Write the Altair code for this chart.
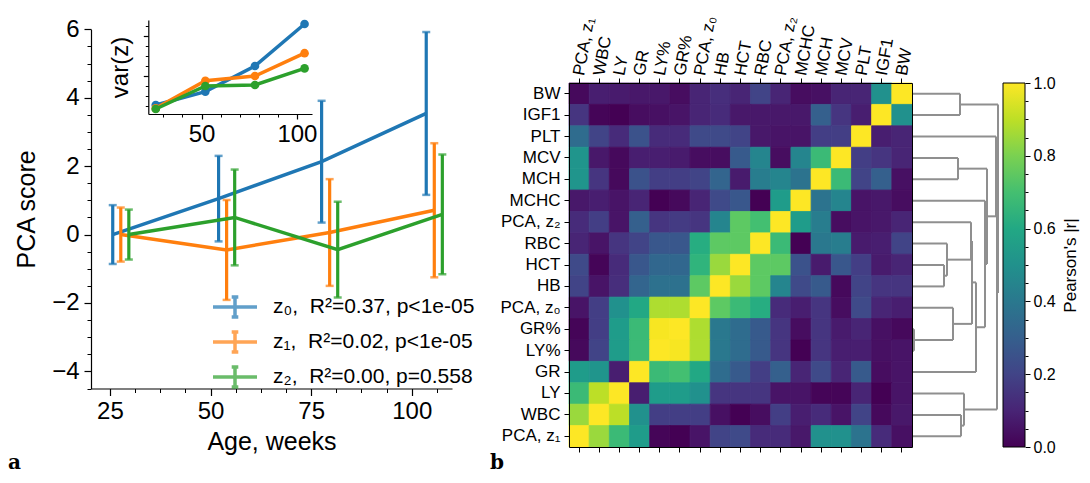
import altair as alt
import pandas as pd

W, H = 1074, 467
FONT = "Liberation Sans"

# ---------------- panel a: PCA scores vs age ----------------
series_labels = ["z\u2080,\u00a0 R\u00b2=0.37, p<1e-05",
                 "z\u2081,\u00a0 R\u00b2=0.02, p<1e-05",
                 "z\u2082,\u00a0 R\u00b2=0.00, p=0.558"]
series_colors = ["#1f77b4", "#ff7f0e", "#2ca02c"]

age_z0 = [25.7, 52.0, 77.6, 103.6]
age_z1 = [27.7, 54.0, 79.6, 105.6]
age_z2 = [29.7, 56.0, 81.6, 107.6]
mean_z0 = [0.0, 1.05, 2.13, 3.54]
mean_z1 = [0.0, -0.45, 0.06, 0.71]
mean_z2 = [0.0, 0.50, -0.44, 0.59]
err_z0 = [0.86, 1.25, 1.78, 2.38]
err_z1 = [0.79, 1.46, 1.56, 1.96]
err_z2 = [0.73, 1.40, 1.40, 1.75]

main_x_ticks = [25, 50, 75, 100]
main_x_minor = [31.25, 37.5, 43.75, 56.25, 62.5, 68.75, 81.25, 87.5, 93.75, 106.25]
main_y_ticks = [-4, -2, 0, 2, 4, 6]
main_y_minor = [-4.5, -3.5, -3, -2.5, -1.5, -1, -0.5, 0.5, 1, 1.5, 2.5, 3, 3.5, 4.5, 5, 5.5]

# inset: variance of z
inset_age = [26, 52, 78, 104]
var_z0 = [0.55, 1.22, 2.50, 4.60]
var_z1 = [0.38, 1.76, 2.00, 3.14]
var_z2 = [0.35, 1.50, 1.55, 2.38]
inset_x_ticks = [50, 100]
inset_x_minor = [30, 40, 60, 70, 80, 90]
inset_y_ticks = [2, 4]
inset_y_minor = [0.5, 1, 1.5, 2.5, 3, 3.5, 4.5]

# ---------------- panel b: correlation heatmap ----------------
heat_cols = ["PCA, z\u2081", "WBC", "LY", "GR", "LY%", "GR%", "PCA, z\u2080", "HB", "HCT",
             "RBC", "PCA, z\u2082", "MCHC", "MCH", "MCV", "PLT", "IGF1", "BW"]
heat_rows = list(reversed(heat_cols))  # top to bottom
heat_r = [
    [0.02, 0.08, 0.07, 0.06, 0.06, 0.03, 0.10, 0.13, 0.10, 0.20, 0.10, 0.03, 0.04, 0.10, 0.10, 0.50, 1.00],  # BW
    [0.15, 0.01, 0.00, 0.03, 0.04, 0.05, 0.10, 0.12, 0.06, 0.06, 0.06, 0.06, 0.30, 0.15, 0.08, 1.00, 0.50],  # IGF1
    [0.35, 0.20, 0.12, 0.25, 0.12, 0.12, 0.22, 0.22, 0.20, 0.06, 0.05, 0.05, 0.18, 0.18, 1.00, 0.08, 0.10],  # PLT
    [0.52, 0.06, 0.02, 0.08, 0.08, 0.07, 0.03, 0.03, 0.28, 0.45, 0.03, 0.45, 0.68, 1.00, 0.18, 0.15, 0.10],  # MCV
    [0.52, 0.15, 0.02, 0.25, 0.18, 0.18, 0.20, 0.32, 0.07, 0.42, 0.45, 0.38, 1.00, 0.68, 0.20, 0.30, 0.04],  # MCH
    [0.06, 0.08, 0.05, 0.10, 0.00, 0.02, 0.10, 0.22, 0.27, 0.00, 0.55, 1.00, 0.38, 0.45, 0.05, 0.06, 0.03],  # MCHC
    [0.12, 0.18, 0.05, 0.30, 0.15, 0.17, 0.15, 0.45, 0.75, 0.70, 1.00, 0.55, 0.42, 0.03, 0.05, 0.06, 0.10],  # z2
    [0.10, 0.05, 0.15, 0.20, 0.27, 0.27, 0.62, 0.75, 0.75, 1.00, 0.68, 0.00, 0.40, 0.42, 0.07, 0.08, 0.20],  # RBC
    [0.22, 0.01, 0.12, 0.27, 0.33, 0.33, 0.65, 0.85, 1.00, 0.75, 0.75, 0.25, 0.07, 0.27, 0.18, 0.07, 0.10],  # HCT
    [0.20, 0.05, 0.13, 0.32, 0.37, 0.37, 0.75, 1.00, 0.85, 0.75, 0.45, 0.22, 0.28, 0.02, 0.20, 0.15, 0.15],  # HB
    [0.05, 0.18, 0.50, 0.60, 0.88, 0.88, 1.00, 0.75, 0.68, 0.62, 0.12, 0.08, 0.15, 0.03, 0.22, 0.10, 0.08],  # z0
    [0.01, 0.18, 0.55, 0.68, 0.99, 1.00, 0.88, 0.40, 0.35, 0.28, 0.15, 0.03, 0.15, 0.07, 0.10, 0.04, 0.02],  # GR%
    [0.02, 0.20, 0.55, 0.68, 1.00, 0.99, 0.88, 0.40, 0.35, 0.28, 0.15, 0.00, 0.15, 0.08, 0.08, 0.04, 0.05],  # LY%
    [0.55, 0.52, 0.08, 1.00, 0.68, 0.70, 0.60, 0.35, 0.28, 0.18, 0.30, 0.10, 0.22, 0.10, 0.28, 0.03, 0.05],  # GR
    [0.68, 0.90, 1.00, 0.08, 0.55, 0.55, 0.50, 0.15, 0.15, 0.15, 0.05, 0.05, 0.01, 0.01, 0.10, 0.00, 0.05],  # LY
    [0.85, 1.00, 0.90, 0.50, 0.18, 0.18, 0.18, 0.04, 0.00, 0.03, 0.18, 0.08, 0.12, 0.05, 0.20, 0.02, 0.06],  # WBC
    [1.00, 0.85, 0.68, 0.55, 0.01, 0.00, 0.05, 0.20, 0.22, 0.12, 0.12, 0.06, 0.50, 0.50, 0.38, 0.12, 0.04],  # z1
]

# dendrogram links: (child a, child b, distance); leaves are row indices 0..16 (top to bottom),
# link k creates node 17 + k
dendro_links = [
    (11, 12, 2), (8, 9, 32), (7, 18, 35), (3, 4, 46), (0, 1, 48), (15, 16, 49),
    (10, 17, 41), (14, 22, 52), (6, 19, 59), (25, 23, 60), (26, 13, 64),
    (5, 27, 73), (20, 28, 75), (2, 29, 84), (30, 24, 85), (21, 31, 86),
]

cbar_ticks = [0.0, 0.2, 0.4, 0.6, 0.8, 1.0]
cbar_minor = [0.05, 0.1, 0.15, 0.25, 0.3, 0.35, 0.45, 0.5, 0.55, 0.65, 0.7, 0.75, 0.85, 0.9, 0.95]
viridis_offsets = [0.0, 0.1, 0.2, 0.3, 0.4, 0.5, 0.6, 0.7, 0.8, 0.9, 1.0]
viridis_colors = ["#440154", "#482475", "#414487", "#355f8d", "#2a788e", "#21918c",
                  "#22a884", "#44bf70", "#7ad151", "#bddf26", "#fde725"]

# ---------------- layout (pixels inside the view) ----------------
A_X = [83, 444]; A_Y = [380.5, 21.3]
IN_X = [140.3, 304]; IN_Y = [106, 12]
HM_X = [561, 904]; HM_Y = [75, 439]
DG_X = [904, 992]
CB_X = [995, 1017]

# ---------------- build tables ----------------
rows = []
for lab, ages, means, errs in zip(series_labels, [age_z0, age_z1, age_z2],
                                  [mean_z0, mean_z1, mean_z2], [err_z0, err_z1, err_z2]):
    for a, m, e in zip(ages, means, errs):
        rows.append({"series": lab, "age": a, "mean": m, "lo": m - e, "hi": m + e})
main_df = pd.DataFrame(rows)

irows = []
for lab, vals in zip(series_labels, [var_z0, var_z1, var_z2]):
    for a, v in zip(inset_age, vals):
        irows.append({"series": lab, "age": a, "var": v})
inset_df = pd.DataFrame(irows)

heat_df = pd.DataFrame([{"row": rn, "col": cn, "r": heat_r[i][j]}
                        for i, rn in enumerate(heat_rows) for j, cn in enumerate(heat_cols)])

pos = {i: float(i) for i in range(17)}
hgt = {i: 0.0 for i in range(17)}
segs = []
for k, (a, b, h) in enumerate(dendro_links):
    segs.append({"h1": hgt[a], "h2": h, "p1": pos[a], "p2": pos[a]})
    segs.append({"h1": hgt[b], "h2": h, "p1": pos[b], "p2": pos[b]})
    segs.append({"h1": h, "h2": h, "p1": pos[a], "p2": pos[b]})
    pos[17 + k] = (pos[a] + pos[b]) / 2
    hgt[17 + k] = h
seg_df = pd.DataFrame(segs)

# ---------------- panel a ----------------
x_main = alt.Scale(domain=[20.3, 110.0], range=A_X, nice=False, zero=False)
y_main = alt.Scale(domain=[-4.5, 6.0], range=A_Y, nice=False, zero=False)
c_main = alt.Scale(domain=series_labels, range=series_colors)

ax_main_x = alt.Axis(orient="bottom", offset=A_Y[0] - H, values=main_x_ticks, format="d",
                     tickSize=7, tickWidth=1.2, domainWidth=1.2, labelFontSize=24, labelPadding=4,
                     title="Age, weeks", titleFontSize=25, titlePadding=6)
ax_main_y = alt.Axis(orient="left", offset=-A_X[0], values=main_y_ticks, format="d",
                     tickSize=7, tickWidth=1.2, domainWidth=1.2, labelFontSize=24, labelPadding=5,
                     title="PCA score", titleFontSize=25, titlePadding=12)
legend_main = alt.Legend(orient="none", legendX=214, legendY=286, title=None,
                         symbolType="M-2,0H2M0,-0.9V0.9M-0.3,-0.9H0.3M-0.3,0.9H0.3",
                         symbolSize=484, symbolStrokeWidth=3.5, labelFontSize=21,
                         labelOffset=25, rowPadding=1, padding=0, labelColor="black",
                         labelFont=FONT, labelLimit=0)

main_layers = []
for lab in series_labels:
    base = alt.Chart(main_df).transform_filter(alt.datum.series == lab)
    ex = alt.X("age:Q", scale=x_main, axis=ax_main_x)
    col = alt.Color("series:N", scale=c_main, legend=legend_main)
    main_layers.append(base.mark_line(strokeWidth=3.5).encode(
        x=ex, y=alt.Y("mean:Q", scale=y_main, axis=ax_main_y), color=col))
    main_layers.append(base.mark_rule(strokeWidth=3.2).encode(
        x=ex, y=alt.Y("lo:Q", scale=y_main, axis=ax_main_y), y2="hi:Q", color=col))
    for f in ["hi", "lo"]:
        main_layers.append(base.mark_tick(orient="horizontal", size=8, thickness=2.5).encode(
            x=ex, y=alt.Y(f + ":Q", scale=y_main, axis=ax_main_y), color=col))
main_group = alt.layer(*main_layers)

main_minor_x = alt.Chart(pd.DataFrame({"v": main_x_minor})).mark_point(opacity=0).encode(
    x=alt.X("v:Q", scale=x_main, axis=alt.Axis(orient="bottom", offset=A_Y[0] - H,
            values=main_x_minor, tickSize=4, tickWidth=1, labels=False, domain=False, title=None)))
main_minor_y = alt.Chart(pd.DataFrame({"v": main_y_minor})).mark_point(opacity=0).encode(
    y=alt.Y("v:Q", scale=y_main, axis=alt.Axis(orient="left", offset=-A_X[0],
            values=main_y_minor, tickSize=4, tickWidth=1, labels=False, domain=False, title=None)))

# inset
x_in = alt.Scale(domain=[22.1, 107.9], range=IN_X, nice=False, zero=False)
y_in = alt.Scale(domain=[0.1, 4.8], range=IN_Y, nice=False, zero=False)
ax_in_x = alt.Axis(orient="bottom", offset=IN_Y[0] - H, values=inset_x_ticks, format="d",
                   tickSize=5, tickWidth=1.2, domainWidth=1.2, labelFontSize=24, labelPadding=3,
                   title=None)
ax_in_y = alt.Axis(orient="left", offset=-IN_X[0], values=inset_y_ticks, labels=False,
                   tickSize=5, tickWidth=1.2, domainWidth=1.2, title="var(z)",
                   titleFontSize=24, titlePadding=10)
inset_layers = []
for lab in series_labels:
    base = alt.Chart(inset_df).transform_filter(alt.datum.series == lab)
    enc = dict(x=alt.X("age:Q", scale=x_in, axis=ax_in_x),
               y=alt.Y("var:Q", scale=y_in, axis=ax_in_y),
               color=alt.Color("series:N", scale=c_main, legend=None))
    inset_layers.append(base.mark_line(strokeWidth=3.5).encode(**enc))
    inset_layers.append(base.mark_point(filled=True, size=75, opacity=1).encode(**enc))
inset_group = alt.layer(*inset_layers)

inset_minor_x = alt.Chart(pd.DataFrame({"v": inset_x_minor})).mark_point(opacity=0).encode(
    x=alt.X("v:Q", scale=x_in, axis=alt.Axis(orient="bottom", offset=IN_Y[0] - H,
            values=inset_x_minor, tickSize=3, tickWidth=1, labels=False, domain=False, title=None)))
inset_minor_y = alt.Chart(pd.DataFrame({"v": inset_y_minor})).mark_point(opacity=0).encode(
    y=alt.Y("v:Q", scale=y_in, axis=alt.Axis(orient="left", offset=-IN_X[0],
            values=inset_y_minor, tickSize=3, tickWidth=1, labels=False, domain=False, title=None)))

# ---------------- panel b ----------------
viridis01 = alt.Scale(scheme="viridis", domain=[0, 1])
heat = alt.Chart(heat_df).mark_rect(strokeWidth=0.8).encode(
    x=alt.X("col:N", sort=heat_cols,
            scale=alt.Scale(domain=heat_cols, range=HM_X, paddingInner=0, paddingOuter=0),
            axis=alt.Axis(orient="top", offset=-HM_Y[0], labelAngle=280, labelAlign="left",
                          labelBaseline="middle", labelFontSize=17, labelPadding=3, tickSize=5,
                          labelLimit=0, title=None)),
    y=alt.Y("row:N", sort=heat_rows,
            scale=alt.Scale(domain=heat_rows, range=HM_Y, paddingInner=0, paddingOuter=0),
            axis=alt.Axis(orient="left", offset=-HM_X[0], labelFontSize=17, labelPadding=4,
                          tickSize=5, title=None)),
    color=alt.Color("r:Q", scale=viridis01, legend=None),
    stroke=alt.Stroke("r:Q", scale=viridis01, legend=None),
)
heat_frame = alt.Chart(heat_df).mark_rect(opacity=0).encode(
    x=alt.X("col:N", sort=heat_cols,
            scale=alt.Scale(domain=heat_cols, range=HM_X, paddingInner=0, paddingOuter=0),
            axis=alt.Axis(orient="bottom", offset=HM_Y[1] - H, labels=False, tickSize=5,
                          title=None)),
    y=alt.Y("row:N", sort=heat_rows,
            scale=alt.Scale(domain=heat_rows, range=HM_Y, paddingInner=0, paddingOuter=0),
            axis=alt.Axis(orient="right", offset=HM_X[1] - W, labels=False, ticks=False,
                          title=None)),
)

dendro = alt.Chart(seg_df).mark_rule(color="#8f8f8f", strokeWidth=2).encode(
    x=alt.X("h1:Q", scale=alt.Scale(domain=[0, 88], range=DG_X, nice=False, zero=False), axis=None),
    x2="h2:Q",
    y=alt.Y("p1:Q", scale=alt.Scale(domain=[-0.5, 16.5], range=HM_Y, nice=False, zero=False),
            axis=None),
    y2="p2:Q",
)

cb_y = alt.Scale(domain=[0, 1], range=[HM_Y[1], HM_Y[0]], nice=False, zero=False)
grad = alt.Gradient(gradient="linear",
                    stops=[alt.GradientStop(color=c, offset=o)
                           for o, c in zip(viridis_offsets, viridis_colors)],
                    x1=0, x2=0, y1=1, y2=0)
cbar = alt.Chart(pd.DataFrame({"x0": [0.0], "x1": [1.0], "v0": [0.0], "v1": [1.0]})).mark_rect(
    fill=grad, stroke="black", strokeWidth=1).encode(
    x=alt.X("x0:Q", scale=alt.Scale(domain=[0, 1], range=CB_X, nice=False, zero=False), axis=None),
    x2="x1:Q",
    y=alt.Y("v0:Q", scale=cb_y,
            axis=alt.Axis(orient="right", offset=CB_X[1] - W, values=cbar_ticks, format=".1f",
                          tickSize=5, labelFontSize=16, labelPadding=3, domain=False,
                          title="Pearson's |r|", titleFontSize=17, titleAngle=270,
                          titleBaseline="top", titlePadding=7)),
    y2="v1:Q",
)
cbar_minor_ax = alt.Chart(pd.DataFrame({"v": cbar_minor})).mark_point(opacity=0).encode(
    y=alt.Y("v:Q", scale=cb_y, axis=alt.Axis(orient="right", offset=CB_X[1] - W,
            values=cbar_minor, tickSize=3, labels=False, domain=False, title=None)))

# panel letters
lab_a = alt.Chart(pd.DataFrame({"t": ["a"]})).mark_text(
    font="DejaVu Serif", fontWeight="bold", fontSize=20, align="left", baseline="alphabetic",
    color="black").encode(text="t:N", x=alt.value(0), y=alt.value(461))
lab_b = alt.Chart(pd.DataFrame({"t": ["b"]})).mark_text(
    font="DejaVu Serif", fontWeight="bold", fontSize=20, align="left", baseline="alphabetic",
    color="black").encode(text="t:N", x=alt.value(482), y=alt.value(461))

chart = alt.layer(
    main_group, main_minor_x, main_minor_y,
    inset_group, inset_minor_x, inset_minor_y,
    heat, heat_frame, dendro, cbar, cbar_minor_ax, lab_a, lab_b,
).resolve_scale(
    x="independent", y="independent", color="independent", stroke="independent"
).resolve_axis(
    x="independent", y="independent"
).resolve_legend(
    color="independent"
).properties(
    width=W, height=H, padding=0, autosize=alt.AutoSizeParams(type="none")
).configure_view(
    stroke=None
).configure_axis(
    grid=False, domainColor="black", tickColor="black", labelColor="black",
    titleColor="black", titleFontWeight="normal", labelFont=FONT, titleFont=FONT
).configure_text(font=FONT)

chart.save("out.html", embed_options={"renderer": "svg", "actions": False})
